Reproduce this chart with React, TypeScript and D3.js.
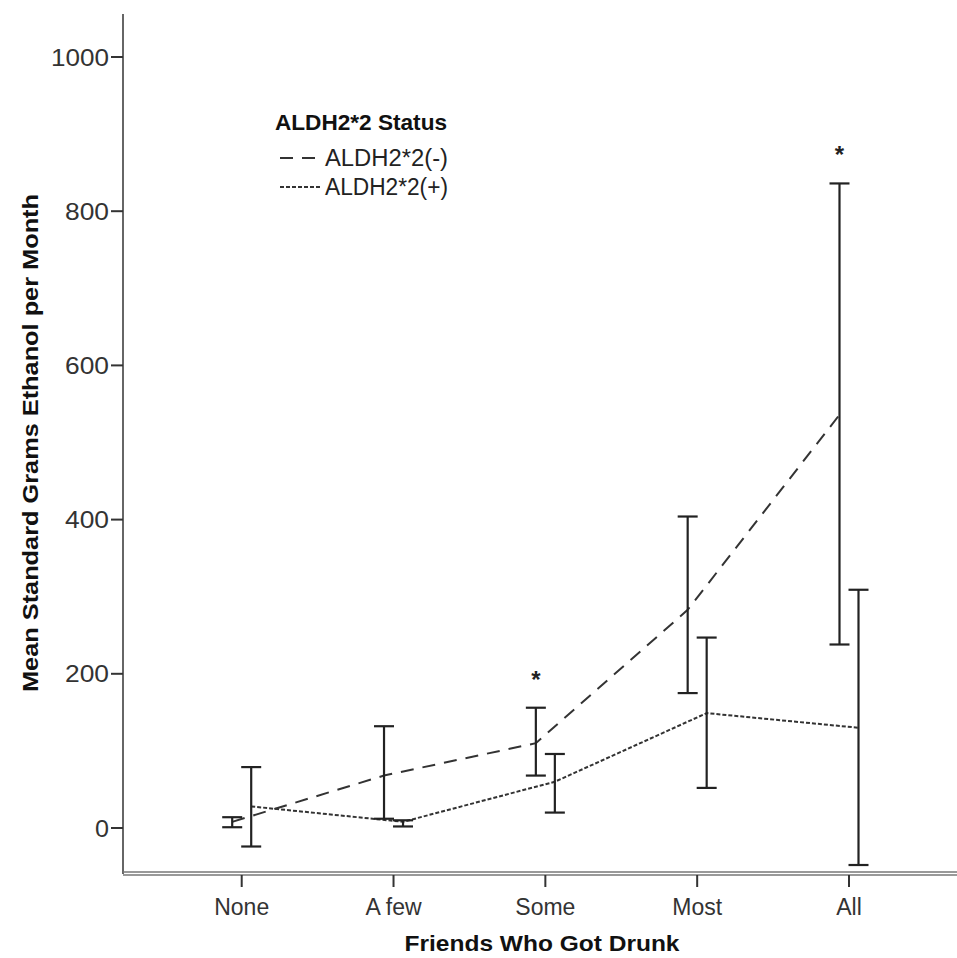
import React from "react";
import * as d3 from "d3";

const categories = ["None", "A few", "Some", "Most", "All"];
const negMean = [8, 68, 110, 283, 536];
const negLow = [1, 12, 68, 175, 238];
const negHigh = [14, 132, 156, 404, 836];
const posMean = [28, 8, 60, 149, 130];
const posLow = [-24, 2, 20, 52, -48];
const posHigh = [79, 10, 96, 247, 309];
const yTicks = [0, 200, 400, 600, 800, 1000];
const starCats = ["Some", "All"];

export default function App() {
  const W = 957, H = 958;
  const y = d3.scaleLinear().domain([0, 1000]).range([828, 57]);
  const x = d3.scalePoint<string>().domain(categories).range([241.7, 849]);
  const off = 9.5;
  const font = "Arial, 'Liberation Sans', sans-serif";
  const line = d3.line<[number, number]>().x(d => d[0]).y(d => d[1]);
  const negPts = categories.map((c, i) => [x(c)! - off, y(negMean[i])] as [number, number]);
  const posPts = categories.map((c, i) => [x(c)! + off, y(posMean[i])] as [number, number]);
  const bar = (cx: number, lo: number, hi: number, k: string) => (
    <g key={k} stroke="#222" strokeWidth={2.2}>
      <line x1={cx} x2={cx} y1={y(lo)} y2={y(hi)} />
      <line x1={cx - 10} x2={cx + 10} y1={y(lo)} y2={y(lo)} />
      <line x1={cx - 10} x2={cx + 10} y1={y(hi)} y2={y(hi)} />
    </g>
  );
  return (
    <svg width={W} height={H} style={{ position: "absolute", left: 0, top: 0, background: "#fff" }} fontFamily={font}>
      <rect width={W} height={H} fill="#fff" />
      <line x1={123} x2={123} y1={14} y2={874} stroke="#666" strokeWidth={2} />
      <line x1={123} x2={957} y1={872} y2={872} stroke="#777" strokeWidth={1.5} />
      <line x1={123} x2={957} y1={875} y2={875} stroke="#777" strokeWidth={1.5} />
      {yTicks.map(t => (
        <g key={t}>
          <line x1={111} x2={123} y1={y(t)} y2={y(t)} stroke="#333" strokeWidth={2} />
          <text x={109} y={y(t)} dy="0.36em" textAnchor="end" fontSize={24} fill="#333" textLength={t === 1000 ? 58 : t === 0 ? 14 : 44} lengthAdjust="spacingAndGlyphs">{t}</text>
        </g>
      ))}
      {categories.map(c => (
        <g key={c}>
          <line x1={x(c)} x2={x(c)} y1={875} y2={887} stroke="#333" strokeWidth={2} />
          <text x={x(c)} y={915} textAnchor="middle" fontSize={23} fill="#333">{c}</text>
        </g>
      ))}
      <path d={line(negPts)!} fill="none" stroke="#333" strokeWidth={2} strokeDasharray="13,9" />
      <path d={line(posPts)!} fill="none" stroke="#333" strokeWidth={2} strokeDasharray="4,2" />
      {categories.map((c, i) => bar(x(c)! - off, negLow[i], negHigh[i], "n" + i))}
      {categories.map((c, i) => bar(x(c)! + off, posLow[i], posHigh[i], "p" + i))}
      {starCats.map(c => {
        const i = categories.indexOf(c);
        return <text key={c} x={x(c)! - off} y={y(negHigh[i]) - 20} textAnchor="middle" fontSize={24} fontWeight="bold" fill="#222">*</text>;
      })}
      <text x={275} y={130} fontSize={22} fontWeight="bold" fill="#111" textLength={172} lengthAdjust="spacingAndGlyphs">ALDH2*2 Status</text>
      <line x1={280} x2={322} y1={158} y2={158} stroke="#333" strokeWidth={2} strokeDasharray="13,9" />
      <text x={325} y={166} fontSize={23} fill="#222" textLength={123} lengthAdjust="spacingAndGlyphs">ALDH2*2(-)</text>
      <line x1={280} x2={322} y1={187} y2={187} stroke="#333" strokeWidth={2} strokeDasharray="4,2" />
      <text x={325} y={195} fontSize={23} fill="#222" textLength={123} lengthAdjust="spacingAndGlyphs">ALDH2*2(+)</text>
      <text x={542} y={951} textAnchor="middle" fontSize={22} fontWeight="bold" fill="#111" textLength={275} lengthAdjust="spacingAndGlyphs">Friends Who Got Drunk</text>
      <text transform={`translate(38,${443}) rotate(-90)`} textAnchor="middle" fontSize={22} fontWeight="bold" fill="#111" textLength={498} lengthAdjust="spacingAndGlyphs">Mean Standard Grams Ethanol per Month</text>
    </svg>
  );
}
